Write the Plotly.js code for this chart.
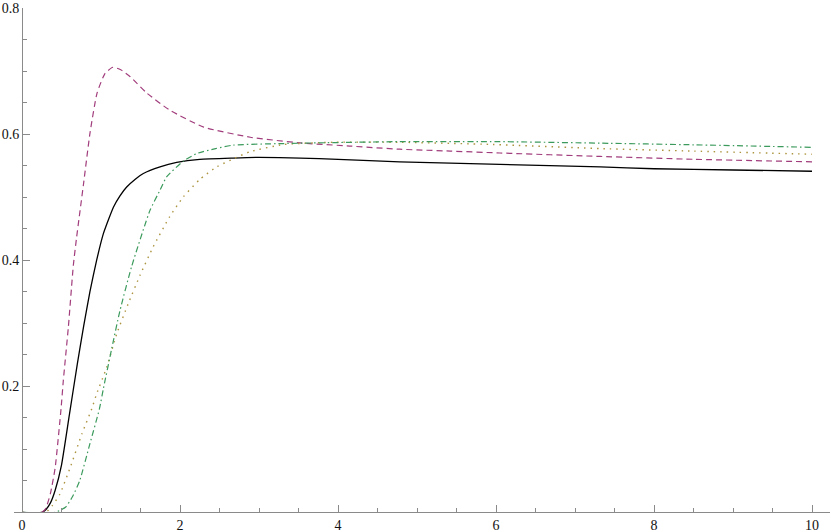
<!DOCTYPE html>
<html>
<head>
<meta charset="utf-8">
<script src="https://cdn.plot.ly/plotly-3.0.1.min.js"></script>
<style>html,body{margin:0;padding:0;background:#fff;}#chart{width:830px;height:532px;}</style>
</head>
<body>
<div id="chart"></div>
<script>
// Series data
const blackX = [0, 0.25, 0.3, 0.36, 0.42, 0.5, 0.6, 0.7, 0.78, 0.86, 0.945, 1.03, 1.1, 1.157, 1.24, 1.325, 1.43, 1.536, 1.747, 1.958, 2.25, 2.67, 3.0, 3.52, 4.0, 4.78, 6.05, 7.32, 8.0, 9.0, 10];
const blackY = [0, 0, 0.004, 0.015, 0.035, 0.075, 0.155, 0.235, 0.295, 0.35, 0.40, 0.442, 0.466, 0.484, 0.502, 0.516, 0.528, 0.5375, 0.548, 0.555, 0.560, 0.562, 0.563, 0.562, 0.560, 0.556, 0.552, 0.548, 0.545, 0.543, 0.541];

const magX = [0, 0.25, 0.3, 0.36, 0.42, 0.494, 0.523, 0.587, 0.65, 0.69, 0.78, 0.86, 0.95, 1.05, 1.15, 1.25, 1.37, 1.58, 1.87, 2.3, 2.89, 3.52, 4.15, 4.78, 5.42, 6.05, 7.32, 8.5, 10];
const magY = [0, 0, 0.006, 0.03, 0.071, 0.164, 0.209, 0.294, 0.392, 0.435, 0.522, 0.601, 0.665, 0.696, 0.706, 0.702, 0.691, 0.665, 0.638, 0.611, 0.595, 0.586, 0.581, 0.576, 0.573, 0.570, 0.5645, 0.560, 0.556];

const goldX = [0, 0.3, 0.38, 0.48, 0.61, 0.76, 0.882, 0.945, 1.072, 1.199, 1.345, 1.494, 1.66, 1.87, 2.04, 2.25, 2.464, 2.68, 2.886, 3.31, 3.94, 4.78, 5.96, 7.32, 8.5, 10];
const goldY = [0, 0, 0.01, 0.029, 0.071, 0.125, 0.164, 0.188, 0.230, 0.283, 0.331, 0.376, 0.421, 0.469, 0.500, 0.528, 0.548, 0.561, 0.572, 0.5835, 0.587, 0.587, 0.5835, 0.577, 0.573, 0.568];

const greenX = [0, 0.42, 0.55, 0.64, 0.73, 0.86, 0.98, 1.03, 1.135, 1.24, 1.388, 1.62, 1.747, 1.83, 2.04, 2.21, 2.45, 2.675, 3.31, 4.78, 6.05, 7.32, 8.5, 10];
const greenY = [0, 0, 0.008, 0.025, 0.05, 0.109, 0.164, 0.196, 0.2595, 0.320, 0.39, 0.479, 0.511, 0.532, 0.557, 0.569, 0.577, 0.5825, 0.585, 0.588, 0.588, 0.5856, 0.583, 0.579];

const xTickVals = [0, 2, 4, 6, 8, 10];

const axisCol = '#8a8a8a';
const fontFam = '"Liberation Serif", "Times New Roman", "DejaVu Serif", serif';
const lineShape = {shape: 'spline', smoothing: 0.5};

const traces = [
  {x: blackX, y: blackY, mode: 'lines', line: Object.assign({color: '#000000', width: 1.3}, lineShape)},
  {x: magX, y: magY, mode: 'lines', line: Object.assign({color: '#a13d7c', width: 1.2, dash: '6px,4px'}, lineShape)},
  {x: goldX, y: goldY, mode: 'lines', line: Object.assign({color: '#ad9540', width: 1.4, dash: '1.5px,5px'}, lineShape)},
  {x: greenX, y: greenY, mode: 'lines', line: Object.assign({color: '#3b9a5c', width: 1.2, dash: '6px,3px,1.5px,3px'}, lineShape)}
];

const plotW = 816;
const layout = {
  width: 830, height: 532,
  margin: {l: 14, r: 0, t: 8, b: 20},
  paper_bgcolor: '#ffffff', plot_bgcolor: '#ffffff',
  showlegend: false,
  font: {family: fontFam, size: 14, color: '#111'},
  xaxis: {
    range: [-8/79, -8/79 + plotW/79],
    showgrid: false, zeroline: false,
    showline: true, linecolor: axisCol, linewidth: 1,
    tickmode: 'array', tickvals: xTickVals,
    ticks: 'inside', ticklen: 7, tickcolor: axisCol, tickwidth: 1,
    minor: {tick0: 0, dtick: 0.5, ticks: 'inside', ticklen: 4, tickcolor: axisCol, tickwidth: 1, showgrid: false},
    tickfont: {family: fontFam, size: 14, color: '#111'}
  },
  yaxis: {
    range: [0.0005, 0.8],
    anchor: 'free', position: 8/plotW,
    showgrid: false, zeroline: false,
    showline: true, linecolor: axisCol, linewidth: 1,
    tickmode: 'linear', tick0: 0, dtick: 0.2,
    ticks: 'inside', ticklen: 7, tickcolor: axisCol, tickwidth: 1,
    minor: {tick0: 0, dtick: 0.05, ticks: 'inside', ticklen: 4, tickcolor: axisCol, tickwidth: 1, showgrid: false},
    tickfont: {family: fontFam, size: 14, color: '#111'}
  }
};

Plotly.newPlot('chart', traces, layout, {displayModeBar: false, staticPlot: true});
</script>
</body>
</html>
